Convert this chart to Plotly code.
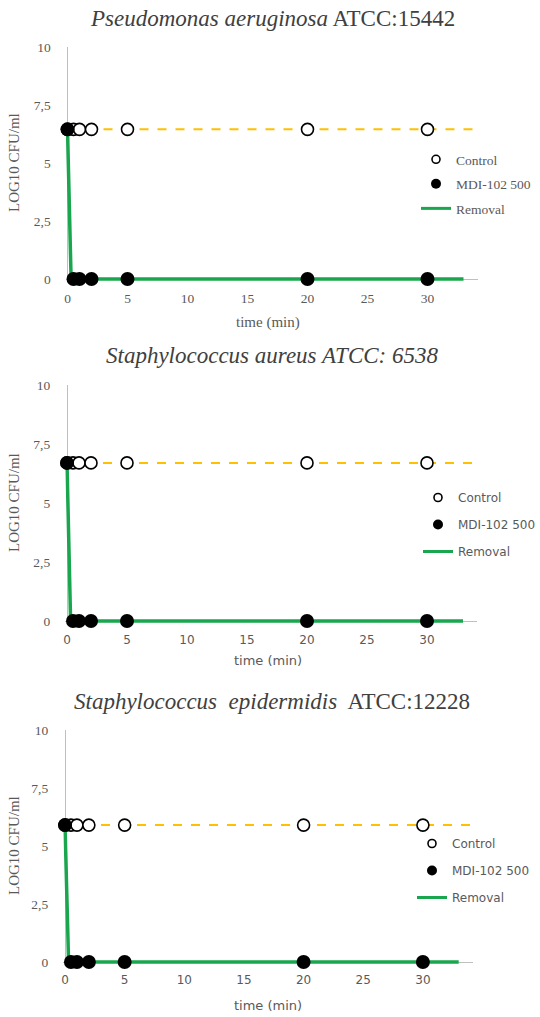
import plotly.graph_objects as go

W, H = 540, 1017

# ---------------- data ----------------
time_min = [0, 0.5, 1, 2, 5, 20, 30]

titles = [
    "<i>Pseudomonas aeruginosa</i> ATCC:15442",
    "<i>Staphylococcus aureus ATCC: 6538</i>",
    "<i>Staphylococcus  epidermidis</i>  ATCC:12228",
]

control_pa = [6.45, 6.45, 6.45, 6.45, 6.45, 6.45, 6.45]
mdi_pa = [6.45, 0, 0, 0, 0, 0, 0]
control_sa = [6.7, 6.7, 6.7, 6.7, 6.7, 6.7, 6.7]
mdi_sa = [6.7, 0, 0, 0, 0, 0, 0]
control_se = [5.9, 5.9, 5.9, 5.9, 5.9, 5.9, 5.9]
mdi_se = [5.9, 0, 0, 0, 0, 0, 0]

control_line_time = [0, 34.2]
removal_time = [0, 0.3, 33]
removal_pa = [6.45, 0, 0]
removal_sa = [6.7, 0, 0]
removal_se = [5.9, 0, 0]

y_tick_vals = [0, 2.5, 5, 7.5, 10]
y_tick_text = ["0", "2,5", "5", "7,5", "10"]
x_tick_vals = [0, 5, 10, 15, 20, 25, 30]

legend_names = ["Control", "MDI-102 500", "Removal"]

panels = [
    dict(ctrl=control_pa, mdi=mdi_pa, rem=removal_pa),
    dict(ctrl=control_sa, mdi=mdi_sa, rem=removal_sa),
    dict(ctrl=control_se, mdi=mdi_se, rem=removal_se),
]

# ---------------- layout geometry (pixels) ----------------
SERIF = "Liberation Serif"
SANS = "DejaVu Sans"
geom = [
    dict(x0=67.5, ux=12.0, top=47, zero=279, title_y=18, xt_y=322, xfont=SERIF,
         leg_y=144, leg_x=416, legfont=SERIF, legsize=13.5, gap=4),
    dict(x0=67, ux=12.0, top=385, zero=621, title_y=355, xt_y=660, xfont=SANS,
         leg_y=483, leg_x=418, legfont=SANS, legsize=12, gap=8),
    dict(x0=65, ux=11.93, top=730, zero=962, title_y=701, xt_y=1005, xfont=SANS,
         leg_y=829, leg_x=412, legfont=SANS, legsize=12, gap=8),
]

GREEN = "#1aa64e"
GOLD = "#ffc000"
AXIS_GRAY = "#bfbfbf"
TXT = "#595959"

XMIN, XMAX = -0.15, 34.2
YMIN, YMAX = -0.15, 10

fig = go.Figure()
annotations = []

for i, (p, g) in enumerate(zip(panels, geom)):
    n = "" if i == 0 else str(i + 1)
    xa, ya = "x" + n, "y" + n
    lg = "legend" + n
    u = (g["zero"] - g["top"]) / 10.0
    bottom = g["zero"] - YMIN * u
    left = g["x0"] + XMIN * g["ux"]
    right = g["x0"] + XMAX * g["ux"]

    fig.update_layout({
        "xaxis" + n: dict(domain=[left / W, right / W], range=[XMIN, XMAX],
                          anchor=ya, showgrid=False, showline=False, automargin=False,
                          zeroline=True, zerolinecolor=AXIS_GRAY, zerolinewidth=1,
                          tickvals=x_tick_vals, ticks="", ticklabelstandoff=6,
                          tickfont=dict(family=g["xfont"], size=13.5 if g["xfont"] == SERIF else 12, color=TXT),
                          fixedrange=True),
        "yaxis" + n: dict(domain=[1 - bottom / H, 1 - g["top"] / H], range=[YMIN, YMAX],
                          anchor=xa, showgrid=False, showline=False, automargin=False,
                          zeroline=True, zerolinecolor=AXIS_GRAY, zerolinewidth=1,
                          tickvals=y_tick_vals, ticktext=y_tick_text, ticks="",
                          ticklabelstandoff=14,
                          tickfont=dict(family=SERIF, size=13.5, color=TXT),
                          fixedrange=True),
        lg: dict(x=g["leg_x"] / W, y=1 - g["leg_y"] / H, xref="container", yref="container",
                 xanchor="left", yanchor="top",
                 bgcolor="rgba(0,0,0,0)", traceorder="grouped", tracegroupgap=g["gap"],
                 font=dict(family=g["legfont"], size=g["legsize"], color=TXT),
                 itemwidth=30),
    })

    # control dashed line
    fig.add_trace(go.Scatter(x=control_line_time, y=[p["ctrl"][0], p["ctrl"][-1]],
                             mode="lines", xaxis=xa, yaxis=ya, showlegend=False,
                             line=dict(color=GOLD, width=2, dash="dash"), hoverinfo="skip"))
    # removal green line
    fig.add_trace(go.Scatter(x=removal_time, y=p["rem"], mode="lines", xaxis=xa, yaxis=ya,
                             showlegend=False, line=dict(color=GREEN, width=3.5), hoverinfo="skip"))
    # control markers
    fig.add_trace(go.Scatter(x=time_min, y=p["ctrl"], mode="markers", xaxis=xa, yaxis=ya,
                             showlegend=False, cliponaxis=False,
                             marker=dict(size=12, color="white", line=dict(color="black", width=1.6))))
    # MDI markers
    fig.add_trace(go.Scatter(x=time_min, y=p["mdi"], mode="markers", xaxis=xa, yaxis=ya,
                             showlegend=False, cliponaxis=False,
                             marker=dict(size=14, color="black", line=dict(color="black", width=0))))

    # legend-only entries
    fig.add_trace(go.Scatter(x=[None], y=[None], mode="markers", name=legend_names[0],
                             xaxis=xa, yaxis=ya, legend=lg, legendgroup=f"a{i}",
                             marker=dict(size=8, color="white", line=dict(color="black", width=1.6))))
    fig.add_trace(go.Scatter(x=[None], y=[None], mode="markers", name=legend_names[1],
                             xaxis=xa, yaxis=ya, legend=lg, legendgroup=f"b{i}",
                             marker=dict(size=10, color="black")))
    fig.add_trace(go.Scatter(x=[None], y=[None], mode="lines", name=legend_names[2],
                             xaxis=xa, yaxis=ya, legend=lg, legendgroup=f"c{i}",
                             line=dict(color=GREEN, width=3)))

    # panel title
    annotations.append(dict(text=titles[i], x=272 / W, y=1 - g["title_y"] / H,
                            xref="paper", yref="paper", showarrow=False,
                            xanchor="center", yanchor="middle",
                            font=dict(family=SERIF, size=23, color="#404040")))
    # y axis title
    annotations.append(dict(text="LOG10 CFU/ml", x=14 / W, y=1 - (g["top"] + g["zero"]) / 2 / H,
                            xref="paper", yref="paper", showarrow=False, textangle=-90,
                            xanchor="center", yanchor="middle",
                            font=dict(family=SERIF, size=15, color=TXT)))
    # x axis title
    annotations.append(dict(text="time (min)", x=268 / W, y=1 - g["xt_y"] / H,
                            xref="paper", yref="paper", showarrow=False,
                            xanchor="center", yanchor="middle",
                            font=dict(family=g["xfont"], size=15 if g["xfont"] == SERIF else 13, color=TXT)))

fig.update_layout(width=W, height=H, margin=dict(l=0, r=0, t=0, b=0, autoexpand=False),
                  paper_bgcolor="white", plot_bgcolor="white",
                  annotations=annotations)

fig.write_html("out.html", config={"displayModeBar": False})
